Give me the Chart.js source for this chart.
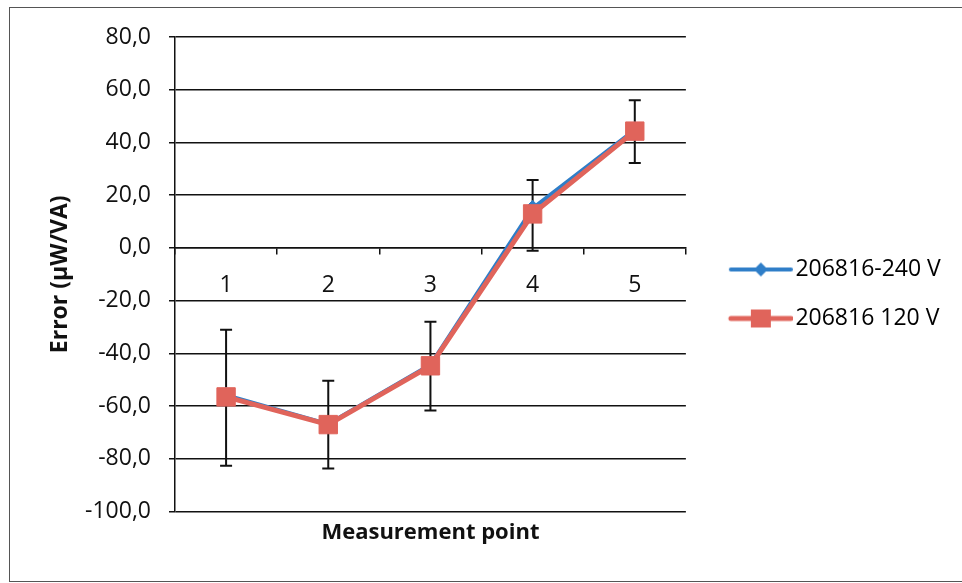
<!DOCTYPE html>
<html>
<head>
<meta charset="utf-8">
<script src="https://cdn.jsdelivr.net/npm/chart.js@4.4.1/dist/chart.umd.min.js"></script>
<style>
  html, body { margin: 0; padding: 0; background: #fff; }
  #wrap { position: relative; width: 962px; height: 583px; }
  #frame { position: absolute; left: 9px; top: 7px; right: -2px; bottom: 1px; border: 1px solid #555; pointer-events: none; }
</style>
</head>
<body>
<div id="wrap">
  <canvas id="chart" width="962" height="583"></canvas>
  <div id="frame"></div>
</div>
<script>
// Measurement points on the x axis
const points = ['1', '2', '3', '4', '5'];

// Error values (µW/VA) for the two meters
const series240 = [-55.8, -66.8, -44.3, 15.0, 44.8];
const series120 = [-56.5, -67.0, -44.7, 12.9, 44.3];

// Error bar ends (upper and lower)
const errHigh = [-31.0, -50.4, -28.0, 25.8, 56.0];
const errLow = [-82.6, -83.7, -61.7, -1.1, 32.2];

// Y axis tick values
const yTicks = [80, 60, 40, 20, 0, -20, -40, -60, -80, -100];

const blue = '#2f7ec8';
const red = '#e0645b';
const ink = '#111111';
const family = '"Open Sans", "DejaVu Sans", sans-serif';

// Legend marker: line with the point shape in the middle (drawn on the right part of the canvas)
function legendMarker(color, shape) {
  const c = document.createElement('canvas');
  c.width = 90;
  c.height = 22;
  const g = c.getContext('2d');
  g.strokeStyle = color;
  g.fillStyle = color;
  g.lineWidth = shape === 'square' ? 5 : 4;
  g.lineCap = 'round';
  g.beginPath();
  g.moveTo(28, 11);
  g.lineTo(88, 11);
  g.stroke();
  if (shape === 'diamond') {
    g.beginPath();
    g.moveTo(58, 4);
    g.lineTo(65, 11);
    g.lineTo(58, 18);
    g.lineTo(51, 11);
    g.closePath();
    g.fill();
  } else {
    g.fillRect(48, 2, 20, 18);
  }
  return c;
}
const markers = [legendMarker(blue, 'diamond'), legendMarker(red, 'square')];

// Draw the error bars under the lines
const errorBars = {
  id: 'errorBars',
  beforeDatasetsDraw(chart) {
    const { ctx, scales } = chart;
    ctx.save();
    ctx.strokeStyle = ink;
    ctx.lineWidth = 2;
    points.forEach((p, i) => {
      const px = scales.x.getPixelForValue(i);
      const top = scales.y.getPixelForValue(errHigh[i]);
      const bot = scales.y.getPixelForValue(errLow[i]);
      ctx.beginPath();
      ctx.moveTo(px, top);
      ctx.lineTo(px, bot);
      ctx.moveTo(px - 6, top);
      ctx.lineTo(px + 6, top);
      ctx.moveTo(px - 6, bot);
      ctx.lineTo(px + 6, bot);
      ctx.stroke();
    });
    ctx.restore();
  }
};

// Let the legend text run to the canvas edge instead of being clipped to its box
const legendRoom = {
  id: 'legendRoom',
  afterLayout(chart) {
    chart.legend.right = chart.width;
  }
};

const ctx = document.querySelector('#chart');

new Chart(ctx, {
  type: 'line',
  data: {
    labels: points,
    datasets: [{
      label: '206816-240 V',
      data: series240,
      borderColor: blue,
      backgroundColor: blue,
      borderWidth: 4,
      pointStyle: 'rectRot',
      pointRadius: 8,
      pointHoverRadius: 8,
      pointBorderWidth: 1,
      order: 1,
      xAxisID: 'x'
    }, {
      label: '206816 120 V',
      data: series120,
      borderColor: red,
      backgroundColor: red,
      borderWidth: 5,
      pointStyle: 'rect',
      pointRadius: 13,
      pointHoverRadius: 13,
      pointBorderWidth: 1,
      order: 0,
      xAxisID: 'x'
    }]
  },
  options: {
    responsive: false,
    animation: false,
    devicePixelRatio: 1,
    layout: {
      // right padding also sets the legend's max width (a quarter of what is left)
      padding: { left: 0, top: 37, right: 47.5, bottom: 32 }
    },
    scales: {
      x: {
        type: 'category',
        position: { y: 0 },
        offset: true,
        grid: {
          offset: true,
          drawOnChartArea: false,
          drawTicks: true,
          tickLength: 6,
          color: ink,
          lineWidth: 1.5
        },
        border: { display: true, color: ink, width: 1.5 },
        ticks: {
          color: ink,
          padding: 18,
          font: { family: family, size: 23 }
        },
        afterFit(scale) {
          scale.height = 0;
        }
      },
      xTitle: {
        type: 'category',
        position: 'bottom',
        grid: { display: false, drawTicks: false },
        border: { display: false },
        ticks: { display: false },
        title: {
          display: true,
          text: 'Measurement point',
          color: ink,
          font: { family: family, size: 22, weight: 'bold' },
          padding: { top: 8, bottom: 5 }
        }
      },
      y: {
        min: -100,
        max: 80,
        afterBuildTicks(scale) {
          scale.ticks = yTicks.map(v => ({ value: v }));
        },
        afterFit(scale) {
          scale.width = 175;
        },
        grid: { color: ink, lineWidth: 1.5, tickLength: 6 },
        border: { color: ink, width: 1.5 },
        ticks: {
          color: ink,
          padding: 18,
          font: { family: family, size: 23 },
          callback: v => v.toFixed(1).replace('.', ',')
        },
        title: {
          display: true,
          text: 'Error (µW/VA)',
          color: ink,
          font: { family: family, size: 23, weight: 'bold' },
          padding: { top: 47 }
        }
      }
    },
    plugins: {
      legend: {
        position: 'right',
        labels: {
          usePointStyle: true,
          pointStyleWidth: 72,
          boxHeight: 22,
          padding: 26,
          color: ink,
          font: { family: family, size: 23 },
          generateLabels(chart) {
            return chart.data.datasets.map((ds, i) => ({
              text: ds.label,
              pointStyle: markers[i],
              fillStyle: ds.borderColor,
              strokeStyle: ds.borderColor,
              lineWidth: 0,
              hidden: false,
              datasetIndex: i
            }));
          }
        }
      },
      tooltip: { enabled: false }
    }
  },
  plugins: [errorBars, legendRoom]
});
</script>
</body>
</html>
